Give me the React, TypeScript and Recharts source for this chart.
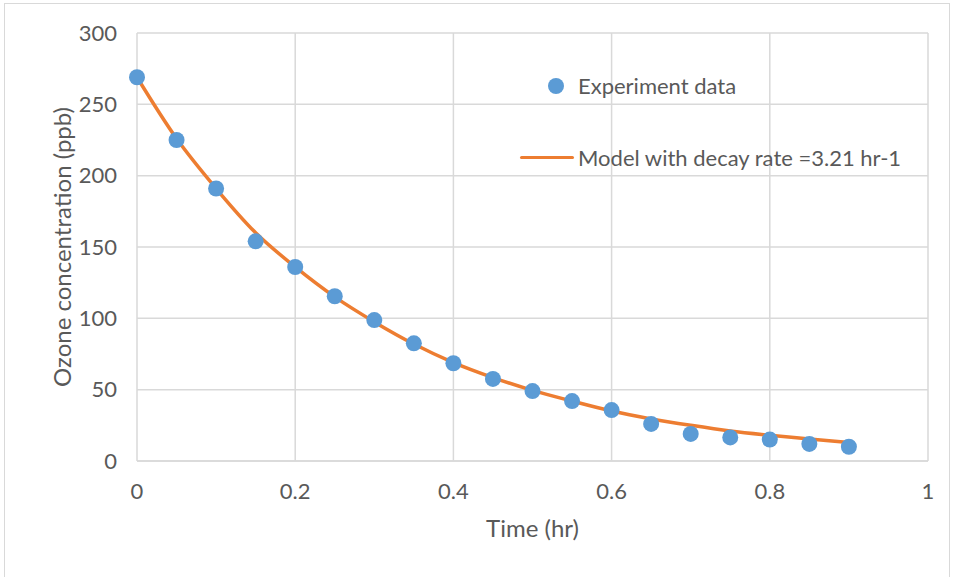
import React from "react";
import { ComposedChart, Line, Scatter, XAxis, YAxis, CartesianGrid, Legend } from "recharts";

const times = [0, 0.05, 0.1, 0.15, 0.2, 0.25, 0.3, 0.35, 0.4, 0.45, 0.5, 0.55, 0.6, 0.65, 0.7, 0.75, 0.8, 0.85, 0.9];
const experiment = [269, 225, 191, 154, 136, 115.5, 98.8, 82.5, 68.5, 57.5, 49, 42, 35.7, 26, 19, 16.5, 15, 12, 10];
const model = [269, 226, 191, 160, 136, 115, 97.5, 82, 69, 58.5, 49.5, 42, 35, 29.5, 25, 21, 18, 15.5, 13];
const xTicks = [0, 0.2, 0.4, 0.6, 0.8, 1];
const yTicks = [0, 50, 100, 150, 200, 250, 300];
const seriesNames = ["Experiment data", "Model with decay rate =3.21 hr-1"];
const xLabel = "Time (hr)";
const yLabel = "Ozone concentration (ppb)";

const data = times.map((t, i) => ({ t, exp: experiment[i], model: model[i] }));

const FONT = "Lato, 'Open Sans', sans-serif";
const TXT = "#595959";
const BLUE = "#5B9BD5";
const ORANGE = "#ED7D31";
const GRID = "#D9D9D9";

const LegendContent = () => (
  <div style={{ fontFamily: FONT, fontSize: 22, color: TXT, position: "relative", width: 420, height: 110 }}>
    <div style={{ position: "absolute", left: 28, top: 0, width: 16, height: 16, borderRadius: 8, background: BLUE }} />
    <div style={{ position: "absolute", left: 58, top: -5, whiteSpace: "nowrap", lineHeight: "26px" }}>{seriesNames[0]}</div>
    <div style={{ position: "absolute", left: 0, top: 78, width: 54, height: 3, background: ORANGE, borderRadius: 2 }} />
    <div style={{ position: "absolute", left: 58, top: 67, whiteSpace: "nowrap", lineHeight: "26px" }}>{seriesNames[1]}</div>
  </div>
);

export default function App() {
  return (
    <div style={{ position: "absolute", left: 0, top: 0, width: 954, height: 577, background: "#fff", overflow: "hidden" }}>
      <div style={{ position: "absolute", left: 4, top: 3, width: 946, height: 600, border: "1px solid #D9D9D9", boxSizing: "border-box" }} />
      <div style={{ position: "absolute", left: 0, top: 0 }}>
        <ComposedChart width={954} height={577} data={data} margin={{ top: 33, right: 26, left: 37, bottom: 56 }}>
          <CartesianGrid stroke={GRID} strokeWidth={1.5} />
          <XAxis
            dataKey="t"
            type="number"
            domain={[0, 1]}
            ticks={xTicks}
            height={60}
            tickSize={0}
            tickMargin={22}
            axisLine={{ stroke: GRID, strokeWidth: 1.5 }}
            tick={{ fill: TXT, fontSize: 22, fontFamily: FONT }}
            label={{ value: xLabel, position: "insideBottom", offset: -16, fill: TXT, fontSize: 24, fontFamily: FONT }}
          />
          <YAxis
            type="number"
            domain={[0, 300]}
            ticks={yTicks}
            width={100}
            tickSize={0}
            tickMargin={20}
            axisLine={false}
            tick={{ fill: TXT, fontSize: 22, fontFamily: FONT }}
            label={{ value: yLabel, angle: -90, position: "insideLeft", offset: 25, fill: TXT, fontSize: 24, fontFamily: FONT, style: { textAnchor: "middle" } }}
          />
          <Line
            dataKey="model"
            name={seriesNames[1]}
            type="monotone"
            stroke={ORANGE}
            strokeWidth={3.5}
            dot={false}
            isAnimationActive={false}
          />
          <Scatter
            dataKey="exp"
            name={seriesNames[0]}
            fill={BLUE}
            shape={(p: any) => <circle cx={p.cx} cy={p.cy} r={8} fill={BLUE} />}
            isAnimationActive={false}
          />
          <Legend
            layout="horizontal"
            verticalAlign="middle"
            align="center"
            content={<LegendContent />}
            wrapperStyle={{ position: "absolute", left: 520, top: 78, width: 420, height: 110 }}
          />
        </ComposedChart>
      </div>
    </div>
  );
}
